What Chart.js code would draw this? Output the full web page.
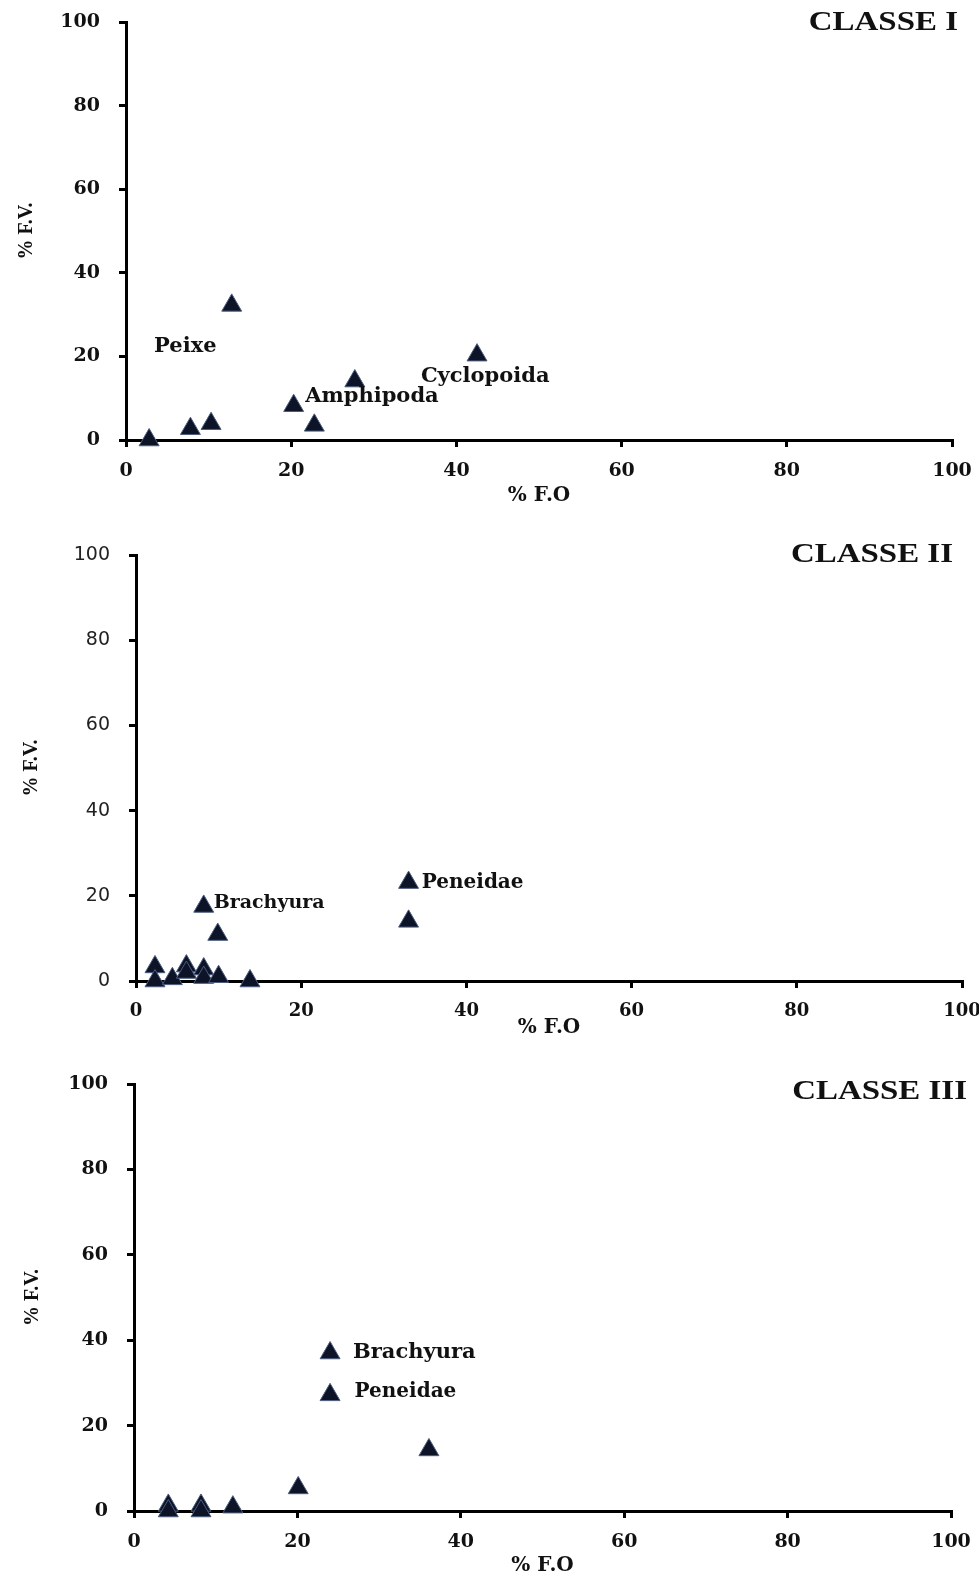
<!DOCTYPE html>
<html>
<head>
<meta charset="utf-8">
<title>% F.V. x % F.O por classe</title>
<script src="https://cdn.jsdelivr.net/npm/chart.js@4.4.1/dist/chart.umd.min.js"></script>
<style>
  html, body { margin: 0; padding: 0; background: #fff; }
  body { width: 979px; height: 1576px; position: relative; overflow: hidden; }
  canvas { position: absolute; left: 0; display: block; }
</style>
</head>
<body>
<canvas id="c1" width="979" height="520" style="top:0px"></canvas>
<canvas id="c2" width="979" height="520" style="top:520px"></canvas>
<canvas id="c3" width="979" height="536" style="top:1040px"></canvas>
<script>
// Shared axis ticks (percent scale)
const axisTicks = [0, 20, 40, 60, 80, 100];

// CLASSE I: frequency of occurrence (% F.O) and volume (% F.V) per prey item
const classe1FO = [2.8, 7.8, 10.3, 12.8, 20.3, 22.8, 27.7, 42.5];
const classe1FV = [0.0, 2.7, 3.9, 32.2, 8.2, 3.5, 14.1, 20.3];

// CLASSE II
const classe2FO = [2.3, 2.3, 4.4, 6.1, 6.1, 8.2, 8.2, 8.2, 9.9, 10.0, 13.8, 33.0, 33.0];
const classe2FV = [3.3, 0.0, 0.5, 3.5, 2.0, 17.5, 2.8, 0.8, 10.9, 1.0, 0.0, 23.1, 14.0];

// CLASSE III
const classe3FO = [4.2, 4.2, 8.2, 8.2, 12.1, 20.1, 24.0, 24.0, 36.1];
const classe3FV = [1.3, 0.0, 1.3, 0.0, 0.9, 5.4, 37.0, 27.2, 14.3];

// Prey names written next to their points
const classe1Names = ['Peixe', 'Amphipoda', 'Cyclopoida'];
const classe2Names = ['Brachyura', 'Peneidae'];
const classe3Names = ['Brachyura', 'Peneidae'];

const SERIF = '"DejaVu Serif", "Liberation Serif", serif';
const TIMES = '"Liberation Serif", serif';
const SANS = '"DejaVu Sans", Verdana, sans-serif';

function toPoints(xs, ys) {
  return xs.map((v, i) => ({ x: v, y: ys[i] }));
}

// Draws the panel heading and the prey names
const panelText = {
  id: 'panelText',
  afterDatasetsDraw(chart, args, opts) {
    const { ctx } = chart;
    const x = chart.scales.x, y = chart.scales.y;
    ctx.save();
    ctx.fillStyle = '#111';
    ctx.textBaseline = 'middle';
    ctx.textAlign = 'left';
    opts.names.forEach((name, i) => {
      const a = opts.anchors[i];
      ctx.font = 'bold ' + a.size + 'px ' + SERIF;
      ctx.fillText(name, x.getPixelForValue(a.fo), y.getPixelForValue(a.fv));
    });
    ctx.font = 'bold 27px ' + TIMES;
    ctx.translate(opts.titleRight, opts.titleY);
    ctx.scale(1.22, 1);
    ctx.textAlign = 'right';
    ctx.fillText(opts.title, 0, 0);
    ctx.restore();
  }
};

function makePanel(id, cfg) {
  const canvas = document.getElementById(id);
  const H = canvas.height;
  return new Chart(canvas, {
    type: 'scatter',
    data: {
      datasets: [{
        data: toPoints(cfg.fo, cfg.fv),
        pointStyle: 'triangle',
        pointRadius: 11.5,
        pointHoverRadius: 11.5,
        backgroundColor: '#0e1428',
        borderColor: '#4a5c7e',
        borderWidth: 1,
        clip: false
      }]
    },
    options: {
      responsive: false,
      animation: false,
      events: [],
      layout: { padding: { top: cfg.top, right: 979 - cfg.right, left: 0, bottom: 0 } },
      plugins: {
        legend: { display: false },
        tooltip: { enabled: false },
        panelText: {
          names: cfg.names,
          anchors: cfg.anchors,
          title: cfg.title,
          titleRight: cfg.titleRight,
          titleY: cfg.titleY
        }
      },
      scales: {
        x: {
          type: 'linear',
          min: 0, max: 100,
          afterBuildTicks: s => { s.ticks = axisTicks.map(v => ({ value: v })); },
          afterFit: s => { s.height = H - cfg.bottom; s.paddingLeft = 0; s.paddingRight = 0; },
          grid: { drawOnChartArea: false, drawTicks: true, tickLength: 7, color: '#000', lineWidth: 3 },
          border: { display: true, color: '#000', width: 3 },
          ticks: {
            padding: 13,
            color: '#111',
            maxRotation: 0,
            autoSkip: false,
            font: cfg.xTickFont
          },
          title: {
            display: true,
            text: '% F.O',
            color: '#111',
            font: { family: SERIF, size: 20, weight: 'bold', lineHeight: 1 },
            padding: { top: 0, bottom: cfg.xTitlePad }
          }
        },
        y: {
          type: 'linear',
          min: 0, max: 100,
          afterBuildTicks: s => { s.ticks = axisTicks.map(v => ({ value: v })); },
          afterFit: s => { s.width = cfg.left; s.paddingTop = 0; s.paddingBottom = 0; },
          grid: { drawOnChartArea: false, drawTicks: true, tickLength: 7, color: '#000', lineWidth: 3 },
          border: { display: true, color: '#000', width: 3 },
          ticks: {
            padding: 19,
            color: cfg.yTickColor,
            autoSkip: false,
            font: cfg.yTickFont
          },
          title: {
            display: true,
            text: '% F.V.',
            color: '#111',
            font: { family: TIMES, size: 20, weight: 'bold', lineHeight: 1 },
            padding: { top: cfg.yTitlePad, bottom: 0 }
          }
        }
      }
    },
    plugins: [panelText]
  });
}

const serifTick = { family: SERIF, size: 19, weight: 'bold' };

makePanel('c1', {
  fo: classe1FO, fv: classe1FV,
  left: 126, right: 952, top: 22, bottom: 440,
  xTitlePad: 14, yTitlePad: 17,
  xTickFont: serifTick,
  yTickFont: serifTick, yTickColor: '#111',
  title: 'CLASSE I', titleRight: 958, titleY: 23,
  names: classe1Names,
  anchors: [
    { fo: 3.4, fv: 22.3, size: 21 },
    { fo: 21.7, fv: 10.4, size: 21 },
    { fo: 35.7, fv: 15.1, size: 21 }
  ]
});

makePanel('c2', {
  fo: classe2FO, fv: classe2FV,
  left: 136, right: 962, top: 35, bottom: 461,
  xTitlePad: 2, yTitlePad: 22,
  xTickFont: { family: SERIF, size: 18, weight: 'bold' },
  yTickFont: { family: SANS, size: 19, weight: 'normal' }, yTickColor: '#222',
  title: 'CLASSE II', titleRight: 953, titleY: 35,
  names: classe2Names,
  anchors: [
    { fo: 9.4, fv: 18.3, size: 19 },
    { fo: 34.6, fv: 23.0, size: 20 }
  ]
});

makePanel('c3', {
  fo: classe3FO, fv: classe3FV,
  left: 134, right: 951, top: 44, bottom: 471,
  xTitlePad: 0, yTitlePad: 23,
  xTickFont: serifTick,
  yTickFont: serifTick, yTickColor: '#111',
  title: 'CLASSE III', titleRight: 967, titleY: 52,
  names: classe3Names,
  anchors: [
    { fo: 26.8, fv: 37.2, size: 21 },
    { fo: 27.0, fv: 27.9, size: 20 }
  ]
});
</script>
</body>
</html>
